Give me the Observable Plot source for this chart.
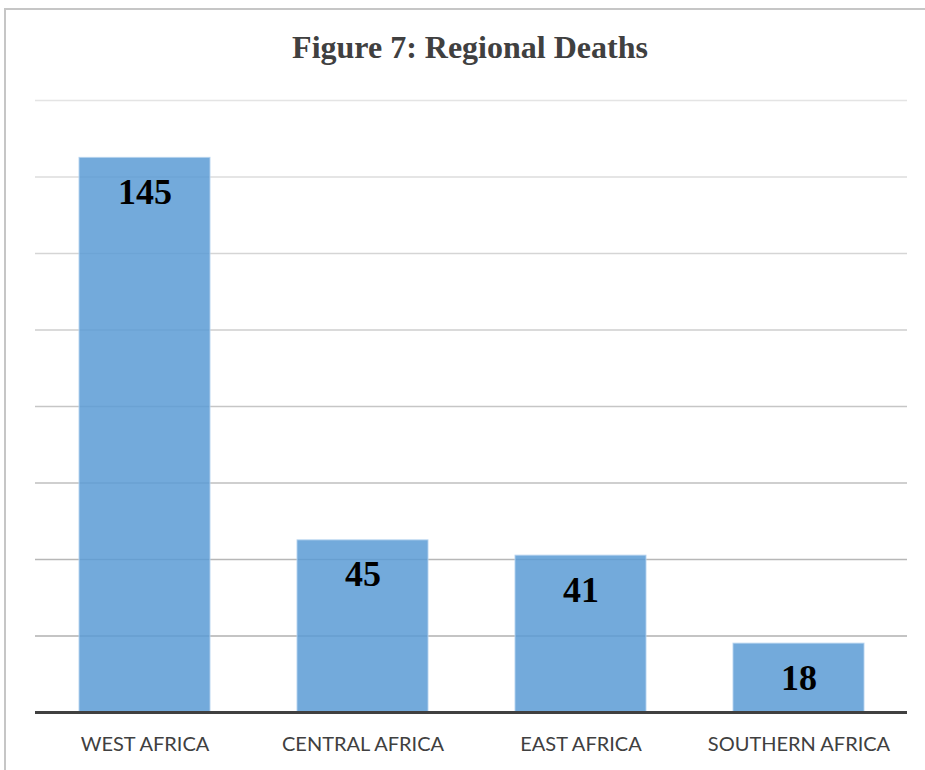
<!DOCTYPE html>
<html>
<head>
<meta charset="utf-8">
<script src="https://cdn.jsdelivr.net/npm/d3@7"></script>
<script src="https://cdn.jsdelivr.net/npm/@observablehq/plot@0.6"></script>
<style>
  html, body { margin: 0; padding: 0; background: #fff; }
  #wrap { position: relative; width: 925px; height: 770px; overflow: hidden; background: #fff; }
  #border { position: absolute; left: 4px; top: 8px; width: 1000px; height: 1000px; border: 2px solid #c6c6c6; }
  #title { position: absolute; left: 0; width: 940px; top: 31px; text-align: center;
           font-family: "Liberation Serif", "Times New Roman", serif; font-weight: bold;
           font-size: 32px; line-height: 32px; color: #404040; }
  #chart { position: absolute; left: 0; top: 80px; }
</style>
</head>
<body>
<div id="wrap">
  <div id="border"></div>
  <div id="title">Figure 7: Regional Deaths</div>
  <div id="chart"></div>
</div>
<script>
const regions = ["WEST AFRICA", "CENTRAL AFRICA", "EAST AFRICA", "SOUTHERN AFRICA"];
const deaths = [145, 45, 41, 18];
const gridTicks = [20, 40, 60, 80, 100, 120, 140, 160];

const data = regions.map((r, i) => ({region: r, value: deaths[i]}));
const gridColor = d3.interpolateRgb("#a8a8a8", "#e4e4e4");

const chart = Plot.plot({
  width: 925,
  height: 690,
  marginTop: 20,
  marginBottom: 58,
  marginLeft: 35,
  marginRight: 18,
  style: {background: "transparent"},
  x: {domain: regions, paddingInner: 0.4, paddingOuter: 0.2, label: null},
  y: {domain: [0, 160], axis: null},
  color: {type: "identity"},
  marks: [
    Plot.ruleY(gridTicks, {stroke: d => gridColor(d / 160), strokeWidth: 1.3}),
    Plot.barY(data, {x: "region", y: "value", fill: "#5b9bd5", fillOpacity: 0.85,
                     stroke: "#b4d2ee", strokeWidth: 1, strokeOpacity: 0.9}),
    Plot.ruleY([0], {stroke: "#404040", strokeWidth: 3}),
    Plot.text(data, {x: "region", y: "value", text: d => String(d.value), dy: 34.5,
                     fontFamily: "Liberation Serif, Times New Roman, serif", fontWeight: "bold",
                     fontSize: 36, fill: "#000"}),
    Plot.axisX({tickSize: 0, tickPadding: 24, fontSize: 20, fontFamily: "Lato, sans-serif",
                color: "#404040", label: null})
  ]
});
document.getElementById("chart").appendChild(chart);
</script>
</body>
</html>
